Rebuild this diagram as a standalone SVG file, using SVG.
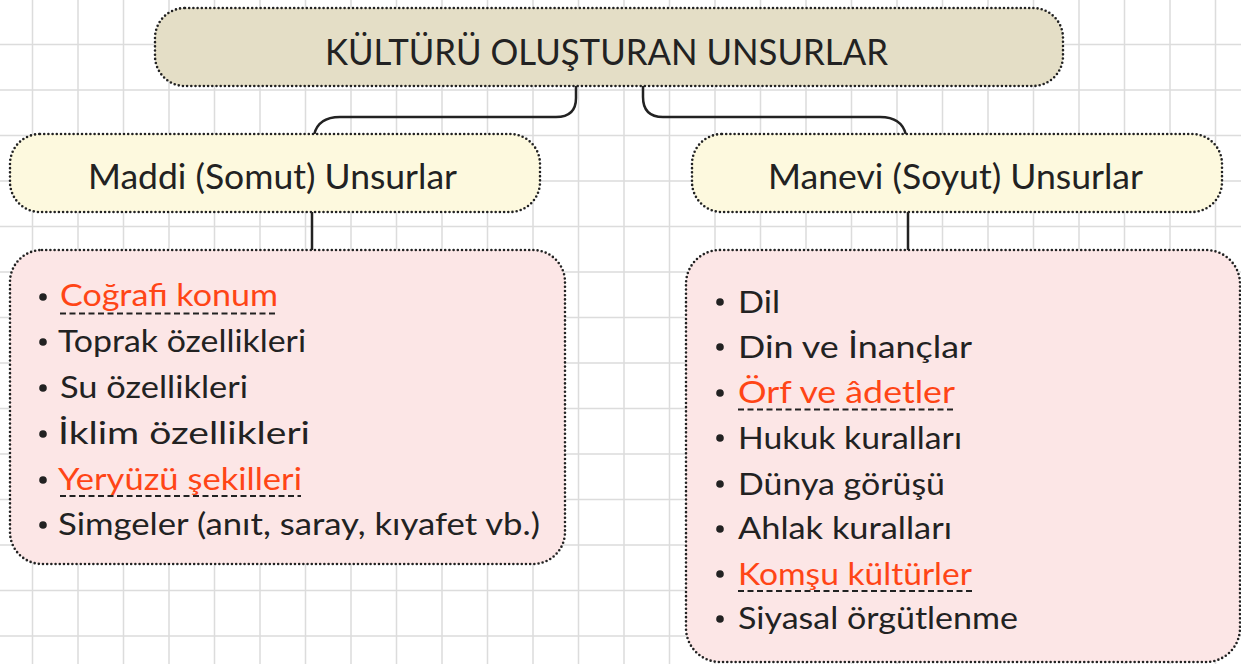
<svg xmlns="http://www.w3.org/2000/svg" width="1241" height="664" viewBox="0 0 1241 664">
<style>
.grid{stroke:#dcdcdc;stroke-width:1.5;fill:none}
.box{stroke:#222;stroke-width:2.6;stroke-dasharray:0 4.2;stroke-linecap:round}
.title{fill:#e4dec6}
.head{fill:#fdf9de}
.body{fill:#fce6e6}
.conn{fill:none;stroke:#222;stroke-width:2.5;stroke-linecap:round}
text{font-family:Lato,"Noto Sans","DejaVu Sans",sans-serif;fill:#222}
.t1{font-size:37px}
.t2{font-size:34px}
.t3{font-size:31px}
.hl{fill:#ff4516}
.bul{fill:#222}
.ul{stroke:#222;stroke-width:2;stroke-dasharray:6 3.5;fill:none}
</style>
<rect width="1241" height="664" fill="#ffffff"/>
<path class="grid" d="M32.5 0V664M78 0V664M123.5 0V664M169 0V664M214.5 0V664M260 0V664M305.5 0V664M351 0V664M396.5 0V664M442 0V664M487.5 0V664M533 0V664M578.5 0V664M624 0V664M669.5 0V664M715 0V664M760.5 0V664M806 0V664M851.5 0V664M897 0V664M942.5 0V664M988 0V664M1033.5 0V664M1079 0V664M1124.5 0V664M1170 0V664M1215.5 0V664M0 44.5H1241M0 90H1241M0 135.5H1241M0 181H1241M0 226.5H1241M0 272H1241M0 317.5H1241M0 363H1241M0 408.5H1241M0 454H1241M0 499.5H1241M0 545H1241M0 590.5H1241M0 636H1241"/>
<g id="connectors">
<path class="conn" d="M576 86V98Q576 117 556 117H340Q318 117 314 135"/>
<path class="conn" d="M643 86V97Q643 117 663 117H880Q902 117 906 135"/>
<path class="conn" d="M312 212V250"/>
<path class="conn" d="M908 212V250"/>
</g>
<g id="title">
<rect class="box title" x="155" y="8" width="908" height="78" rx="30"/>
<text class="t1" x="325" y="65" textLength="563" lengthAdjust="spacingAndGlyphs">KÜLTÜRÜ OLUŞTURAN UNSURLAR</text>
</g>
<g id="maddi">
<rect class="box head" x="10" y="134" width="530" height="78" rx="30"/>
<text class="t2" x="88" y="189" textLength="369" lengthAdjust="spacingAndGlyphs">Maddi (Somut) Unsurlar</text>
</g>
<g id="manevi">
<rect class="box head" x="692" y="134" width="530" height="78" rx="30"/>
<text class="t2" x="768" y="189" textLength="375" lengthAdjust="spacingAndGlyphs">Manevi (Soyut) Unsurlar</text>
</g>
<g id="maddi-list">
<rect class="box body" x="10" y="250" width="555" height="314" rx="32"/>
<g class="bul">
<circle cx="43" cy="297" r="3.8"/><circle cx="43" cy="342" r="3.8"/><circle cx="43" cy="388" r="3.8"/><circle cx="43" cy="434" r="3.8"/><circle cx="43" cy="480" r="3.8"/><circle cx="43" cy="525" r="3.8"/>
</g>
<text class="t3 hl" x="60" y="306" textLength="218" lengthAdjust="spacingAndGlyphs">Coğrafi konum</text>
<path class="ul" d="M60 313.5H278"/>
<text class="t3" x="58" y="352" textLength="248" lengthAdjust="spacingAndGlyphs">Toprak özellikleri</text>
<text class="t3" x="60" y="398" textLength="188" lengthAdjust="spacingAndGlyphs">Su özellikleri</text>
<text class="t3" x="58" y="444" textLength="252" lengthAdjust="spacingAndGlyphs">İklim özellikleri</text>
<text class="t3 hl" x="58" y="490" textLength="244" lengthAdjust="spacingAndGlyphs">Yeryüzü şekilleri</text>
<path class="ul" d="M60 496H301"/>
<text class="t3" x="58" y="535" textLength="482" lengthAdjust="spacingAndGlyphs">Simgeler (anıt, saray, kıyafet vb.)</text>
</g>
<g id="manevi-list">
<rect class="box body" x="686" y="250" width="554" height="412" rx="34"/>
<g class="bul">
<circle cx="720" cy="302" r="3.8"/><circle cx="720" cy="347" r="3.8"/><circle cx="720" cy="393" r="3.8"/><circle cx="720" cy="438" r="3.8"/><circle cx="720" cy="484" r="3.8"/><circle cx="720" cy="529" r="3.8"/><circle cx="720" cy="574" r="3.8"/><circle cx="720" cy="619" r="3.8"/>
</g>
<text class="t3" x="738" y="313" textLength="42" lengthAdjust="spacingAndGlyphs">Dil</text>
<text class="t3" x="738" y="358" textLength="234" lengthAdjust="spacingAndGlyphs">Din ve İnançlar</text>
<text class="t3 hl" x="738" y="403" textLength="217" lengthAdjust="spacingAndGlyphs">Örf ve âdetler</text>
<path class="ul" d="M738 409.5H955"/>
<text class="t3" x="738" y="449" textLength="224" lengthAdjust="spacingAndGlyphs">Hukuk kuralları</text>
<text class="t3" x="738" y="495" textLength="207" lengthAdjust="spacingAndGlyphs">Dünya görüşü</text>
<text class="t3" x="738" y="539" textLength="214" lengthAdjust="spacingAndGlyphs">Ahlak kuralları</text>
<text class="t3 hl" x="738" y="585" textLength="234" lengthAdjust="spacingAndGlyphs">Komşu kültürler</text>
<path class="ul" d="M738 591H972"/>
<text class="t3" x="738" y="629" textLength="280" lengthAdjust="spacingAndGlyphs">Siyasal örgütlenme</text>
</g>
</svg>
